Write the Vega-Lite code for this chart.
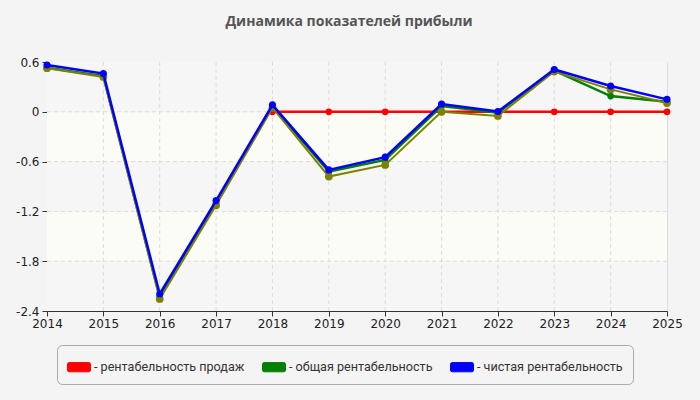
{
  "$schema": "https://vega.github.io/schema/vega-lite/v6.json",
  "width": 620,
  "height": 249,
  "autosize": {"type": "none"},
  "padding": {"left": 47, "top": 62, "right": 33, "bottom": 89},
  "background": "#f4f4f4",
  "title": {
    "text": "Динамика показателей прибыли",
    "font": "Open Sans",
    "fontSize": 14,
    "fontWeight": "bold",
    "color": "#555555",
    "anchor": "middle",
    "frame": "group",
    "dx": -8,
    "baseline": "alphabetic",
    "offset": 16
  },
  "config": {
    "view": {"stroke": "#dddddd", "fill": null},
    "axis": {
      "domainColor": "#333333",
      "tickColor": "#333333",
      "labelColor": "#222222",
      "labelFont": "DejaVu Sans",
      "labelFontSize": 12,
      "tickSize": 5,
      "grid": false,
      "title": null,
      "labelOverlap": false,
      "labelFlush": false
    }
  },
  "datasets": {
    "bands": [
      {"lo": 0, "hi": 0.6, "kind": "hatched"},
      {"lo": -0.6, "hi": 0, "kind": "plain"},
      {"lo": -1.2, "hi": -0.6, "kind": "hatched"},
      {"lo": -1.8, "hi": -1.2, "kind": "plain"},
      {"lo": -2.4, "hi": -1.8, "kind": "hatched"}
    ],
    "yticks": [{"v": 0}, {"v": -0.6}, {"v": -1.2}, {"v": -1.8}],
    "xticks": [
      {"y": 2015}, {"y": 2016}, {"y": 2017}, {"y": 2018}, {"y": 2019},
      {"y": 2020}, {"y": 2021}, {"y": 2022}, {"y": 2023}, {"y": 2024}
    ],
    "series": [
      {"year": 2018, "series": "рентабельность продаж", "value": 0},
      {"year": 2019, "series": "рентабельность продаж", "value": 0},
      {"year": 2020, "series": "рентабельность продаж", "value": 0},
      {"year": 2021, "series": "рентабельность продаж", "value": 0},
      {"year": 2022, "series": "рентабельность продаж", "value": 0},
      {"year": 2023, "series": "рентабельность продаж", "value": 0},
      {"year": 2024, "series": "рентабельность продаж", "value": 0},
      {"year": 2025, "series": "рентабельность продаж", "value": 0},

      {"year": 2014, "series": "общая рентабельность", "value": 0.53},
      {"year": 2015, "series": "общая рентабельность", "value": 0.43},
      {"year": 2016, "series": "общая рентабельность", "value": -2.23},
      {"year": 2017, "series": "общая рентабельность", "value": -1.1},
      {"year": 2018, "series": "общая рентабельность", "value": 0.065},
      {"year": 2019, "series": "общая рентабельность", "value": -0.72},
      {"year": 2020, "series": "общая рентабельность", "value": -0.58},
      {"year": 2021, "series": "общая рентабельность", "value": 0.07},
      {"year": 2022, "series": "общая рентабельность", "value": -0.01},
      {"year": 2023, "series": "общая рентабельность", "value": 0.495},
      {"year": 2024, "series": "общая рентабельность", "value": 0.19},
      {"year": 2025, "series": "общая рентабельность", "value": 0.12},

      {"year": 2014, "series": "доп. показатель", "value": 0.525},
      {"year": 2015, "series": "доп. показатель", "value": 0.42},
      {"year": 2016, "series": "доп. показатель", "value": -2.255},
      {"year": 2017, "series": "доп. показатель", "value": -1.127},
      {"year": 2018, "series": "доп. показатель", "value": 0.05},
      {"year": 2019, "series": "доп. показатель", "value": -0.78},
      {"year": 2020, "series": "доп. показатель", "value": -0.64},
      {"year": 2021, "series": "доп. показатель", "value": 0.0},
      {"year": 2022, "series": "доп. показатель", "value": -0.05},
      {"year": 2023, "series": "доп. показатель", "value": 0.485},
      {"year": 2024, "series": "доп. показатель", "value": 0.27},
      {"year": 2025, "series": "доп. показатель", "value": 0.105},

      {"year": 2014, "series": "чистая рентабельность", "value": 0.564},
      {"year": 2015, "series": "чистая рентабельность", "value": 0.46},
      {"year": 2016, "series": "чистая рентабельность", "value": -2.195},
      {"year": 2017, "series": "чистая рентабельность", "value": -1.07},
      {"year": 2018, "series": "чистая рентабельность", "value": 0.084},
      {"year": 2019, "series": "чистая рентабельность", "value": -0.7},
      {"year": 2020, "series": "чистая рентабельность", "value": -0.546},
      {"year": 2021, "series": "чистая рентабельность", "value": 0.093},
      {"year": 2022, "series": "чистая рентабельность", "value": 0.004},
      {"year": 2023, "series": "чистая рентабельность", "value": 0.51},
      {"year": 2024, "series": "чистая рентабельность", "value": 0.31},
      {"year": 2025, "series": "чистая рентабельность", "value": 0.15}
    ]
  },
  "layer": [
    {
      "data": {"name": "bands"},
      "transform": [{"filter": "datum.kind === 'hatched'"}],
      "mark": {"type": "rect", "color": "#f6f6f6"},
      "encoding": {
        "x": {"datum": 2014, "type": "quantitative",
              "scale": {"domain": [2014, 2025], "nice": false, "zero": false},
              "axis": {"values": [2014, 2015, 2016, 2017, 2018, 2019, 2020, 2021, 2022, 2023, 2024, 2025],
                       "format": "d", "labelPadding": 2}},
        "x2": {"datum": 2025},
        "y": {"field": "lo", "type": "quantitative",
              "scale": {"domain": [-2.4, 0.6], "nice": false, "zero": false},
              "axis": {"values": [-2.4, -1.8, -1.2, -0.6, 0, 0.6],
                       "labelExpr": "datum.value + ''", "labelPadding": 3}},
        "y2": {"field": "hi"}
      }
    },
    {
      "data": {"name": "bands"},
      "transform": [{"filter": "datum.kind === 'plain'"}],
      "mark": {"type": "rect", "color": "#fcfcf6"},
      "encoding": {
        "x": {"datum": 2014, "type": "quantitative"},
        "x2": {"datum": 2025},
        "y": {"field": "lo", "type": "quantitative"},
        "y2": {"field": "hi"}
      }
    },
    {
      "data": {"name": "yticks"},
      "mark": {"type": "rule", "color": "#dcdcdc", "strokeDash": [4, 3], "strokeWidth": 1},
      "encoding": {"y": {"field": "v", "type": "quantitative"}}
    },
    {
      "data": {"name": "xticks"},
      "mark": {"type": "rule", "color": "#dcdcdc", "strokeDash": [4, 3], "strokeWidth": 1},
      "encoding": {"x": {"field": "y", "type": "quantitative"}}
    },
    {
      "data": {"name": "series"},
      "transform": [{"filter": "datum.series === 'рентабельность продаж'"}],
      "encoding": {
        "x": {"field": "year", "type": "quantitative"},
        "y": {"field": "value", "type": "quantitative"},
        "color": {
          "field": "series", "type": "nominal",
          "scale": {
            "domain": ["рентабельность продаж", "общая рентабельность", "доп. показатель", "чистая рентабельность"],
            "range": ["#ff0000", "#008000", "#808000", "#0000ff"]
          },
          "legend": {
            "orient": "none",
            "legendX": 10,
            "legendY": 283,
            "direction": "horizontal",
            "title": null,
            "values": ["рентабельность продаж", "общая рентабельность", "чистая рентабельность"],
            "labelExpr": "'- ' + datum.label",
            "labelFont": "Roboto",
            "labelFontSize": 12.6,
            "labelColor": "#333333",
            "labelOffset": 3,
            "labelLimit": 300,
            "columnPadding": 15,
            "symbolType": "M -0.85 -0.4 H 0.85 Q 1 -0.4 1 -0.25 V 0.25 Q 1 0.4 0.85 0.4 H -0.85 Q -1 0.4 -1 0.25 V -0.25 Q -1 -0.4 -0.85 -0.4 Z",
            "symbolSize": 529,
            "symbolOpacity": 1,
            "symbolStrokeWidth": 1,
            "padding": 10,
            "strokeColor": "#aaaaaa",
            "fillColor": "#f4f4f4",
            "cornerRadius": 5
          }
        }
      },
      "layer": [
        {"mark": {"type": "line", "strokeWidth": 2.5}},
        {"mark": {"type": "point", "filled": true, "size": 45, "opacity": 1}}
      ]
    },
    {
      "data": {"name": "series"},
      "transform": [{"filter": "datum.series === 'общая рентабельность'"}],
      "encoding": {
        "x": {"field": "year", "type": "quantitative"},
        "y": {"field": "value", "type": "quantitative"},
        "color": {"field": "series", "type": "nominal"}
      },
      "layer": [
        {"mark": {"type": "line", "strokeWidth": 2.5}},
        {"mark": {"type": "point", "filled": true, "size": 45, "opacity": 1}}
      ]
    },
    {
      "data": {"name": "series"},
      "transform": [{"filter": "datum.series === 'доп. показатель'"}],
      "encoding": {
        "x": {"field": "year", "type": "quantitative"},
        "y": {"field": "value", "type": "quantitative"},
        "color": {"field": "series", "type": "nominal"}
      },
      "layer": [
        {"mark": {"type": "line", "strokeWidth": 2}},
        {"mark": {"type": "point", "filled": true, "size": 60, "opacity": 1}}
      ]
    },
    {
      "data": {"name": "series"},
      "transform": [{"filter": "datum.series === 'чистая рентабельность'"}],
      "encoding": {
        "x": {"field": "year", "type": "quantitative"},
        "y": {"field": "value", "type": "quantitative"},
        "color": {"field": "series", "type": "nominal"}
      },
      "layer": [
        {"mark": {"type": "line", "strokeWidth": 2.5}},
        {"mark": {"type": "point", "filled": true, "size": 50, "opacity": 1}}
      ]
    }
  ]
}
